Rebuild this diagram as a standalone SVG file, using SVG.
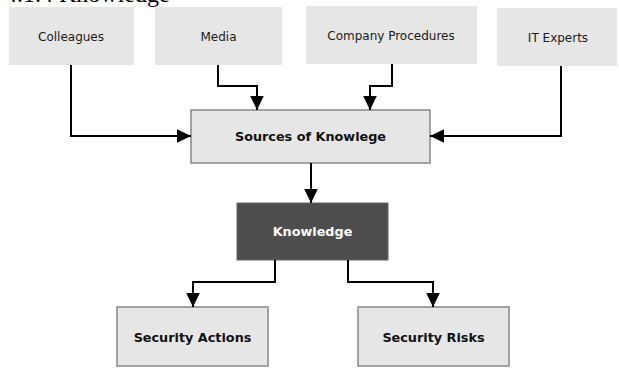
<svg xmlns="http://www.w3.org/2000/svg" width="619" height="368" viewBox="0 0 619 368">
<defs>
<style>
.src rect{fill:#e6e6e6;}
.src text{font-family:"DejaVu Sans",Verdana,sans-serif;font-size:12px;fill:#1a1a1a;text-anchor:middle;}
.box rect{fill:#e6e6e6;stroke:#888888;stroke-width:1.5;}
.box text{font-family:"DejaVu Sans",Verdana,sans-serif;font-size:12.8px;font-weight:bold;fill:#111111;text-anchor:middle;}
#knowledge rect{fill:#4d4d4d;stroke:#666666;stroke-width:1;}
#knowledge text{fill:#ffffff;}
.conn path{fill:none;stroke:#000;stroke-width:2;marker-end:url(#arr);}
.head{font-family:"Liberation Serif","Times New Roman",serif;font-size:24px;fill:#000;}
</style>
<marker id="arr" markerUnits="userSpaceOnUse" markerWidth="14" markerHeight="14" viewBox="0 0 13 12.6" refX="13" refY="6.3" orient="auto">
<path d="M0,0 L13,6.3 L0,12.6 z" fill="#000"/>
</marker>
</defs>
<text class="head" x="5" y="2">4.1.4 Knowledge</text>
<g id="colleagues" class="src"><rect x="9" y="7" width="125" height="58"/><text x="71" y="40.5">Colleagues</text></g>
<g id="media" class="src"><rect x="155" y="7" width="127" height="58"/><text x="218.5" y="40.5">Media</text></g>
<g id="company" class="src"><rect x="306" y="6" width="171" height="58"/><text x="391" y="39.5">Company Procedures</text></g>
<g id="itexperts" class="src"><rect x="497" y="8" width="120" height="58"/><text x="558" y="41.5">IT Experts</text></g>
<g id="sources" class="box"><rect x="191" y="110" width="239" height="53"/><text x="310.5" y="141">Sources of Knowlege</text></g>
<g id="knowledge" class="box"><rect x="237" y="203" width="151" height="57"/><text x="312.5" y="236">Knowledge</text></g>
<g id="actions" class="box"><rect x="117" y="307" width="151" height="59"/><text x="192.5" y="342">Security Actions</text></g>
<g id="risks" class="box"><rect x="358" y="307" width="151" height="59"/><text x="433.5" y="342">Security Risks</text></g>
<g id="connectors" class="conn">
<path d="M71,65 V136 H191"/>
<path d="M218,65 V86 H257 V110"/>
<path d="M392,64 V86 H370 V110"/>
<path d="M561,66 V136 H430"/>
<path d="M311,163 V203"/>
<path d="M275,260 V282 H193 V307"/>
<path d="M348,260 V282 H433 V307"/>
</g>
</svg>
